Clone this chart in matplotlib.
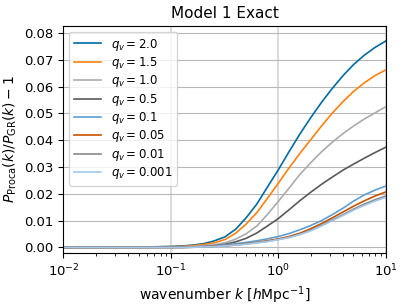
import numpy as np
import matplotlib
matplotlib.use("Agg")
import matplotlib.pyplot as plt

plt.style.use("tableau-colorblind10")

# wavenumber grid (h/Mpc)
k = [0.01, 0.03, 0.06, 0.1, 0.13, 0.16, 0.2, 0.25, 0.32, 0.4, 0.5, 0.63,
     0.79, 1.0, 1.26, 1.58, 2.0, 2.51, 3.16, 3.98, 5.01, 6.31, 7.94, 10.0]

qv_labels = ["2.0", "1.5", "1.0", "0.5", "0.1", "0.05", "0.01", "0.001"]

ratio_q2p0 = [0.0, 0.0001, 0.0002, 0.0004, 0.0006, 0.0009, 0.0014, 0.0024, 0.0040, 0.0068,
              0.0110, 0.0162, 0.0225, 0.0290, 0.0358, 0.0422, 0.0484, 0.0540, 0.0592,
              0.0640, 0.0682, 0.0717, 0.0746, 0.0770]
ratio_q1p5 = [0.0, 0.0001, 0.0001, 0.0003, 0.0004, 0.0007, 0.0011, 0.0017, 0.0030, 0.0053,
              0.0087, 0.0130, 0.0183, 0.0240, 0.0297, 0.0350, 0.0402, 0.0452, 0.0500,
              0.0543, 0.0582, 0.0614, 0.0641, 0.0662]
ratio_q1p0 = [0.0, 0.0, 0.0001, 0.0002, 0.0003, 0.0004, 0.0006, 0.0010, 0.0018, 0.0031,
              0.0051, 0.0080, 0.0123, 0.0172, 0.0222, 0.0272, 0.0316, 0.0356, 0.0392,
              0.0424, 0.0453, 0.0479, 0.0502, 0.0525]
ratio_q0p5 = [0.0, 0.0, 0.0, 0.0001, 0.0001, 0.0002, 0.0003, 0.0006, 0.0012, 0.0021,
              0.0034, 0.0054, 0.0080, 0.0108, 0.0141, 0.0174, 0.0206, 0.0235, 0.0262,
              0.0288, 0.0311, 0.0333, 0.0354, 0.0374]
ratio_q0p1 = [0.0, 0.0, 0.0, 0.0, 0.0001, 0.0002, 0.0003, 0.0006, 0.0010, 0.0014,
              0.0019, 0.0025, 0.0032, 0.0041, 0.0052, 0.0066, 0.0082, 0.0100, 0.0122,
              0.0146, 0.0173, 0.0196, 0.0214, 0.0229]
ratio_q0p05 = [0.0, 0.0, 0.0, 0.0, 0.0, 0.0001, 0.0002, 0.0004, 0.0007, 0.0010,
               0.0014, 0.0019, 0.0025, 0.0032, 0.0041, 0.0053, 0.0070, 0.0089, 0.0110,
               0.0132, 0.0154, 0.0174, 0.0192, 0.0207]
ratio_q0p01 = [0.0, 0.0, 0.0, 0.0, 0.0, 0.0001, 0.0002, 0.0004, 0.0006, 0.0009,
               0.0013, 0.0018, 0.0023, 0.0030, 0.0038, 0.0049, 0.0064, 0.0082, 0.0102,
               0.0122, 0.0143, 0.0162, 0.0178, 0.0192]
ratio_q0p001 = [0.0, 0.0, 0.0, 0.0, 0.0, 0.0001, 0.0002, 0.0003, 0.0006, 0.0009,
                0.0012, 0.0017, 0.0022, 0.0029, 0.0037, 0.0048, 0.0062, 0.0080, 0.0099,
                0.0119, 0.0139, 0.0157, 0.0173, 0.0187]

series = [ratio_q2p0, ratio_q1p5, ratio_q1p0, ratio_q0p5,
          ratio_q0p1, ratio_q0p05, ratio_q0p01, ratio_q0p001]

fig = plt.figure(figsize=(4.07, 3.05), dpi=100)
ax = fig.add_axes([0.156, 0.171, 0.792, 0.744])

for lab, vals in zip(qv_labels, series):
    ax.plot(k, vals, lw=1.2, label=r"$q_v = %s$" % lab)

ax.set_xscale("log")
ax.set_xlim(1e-2, 1e1)
ax.set_ylim(-0.002, 0.0826)
ax.set_yticks(np.arange(0, 0.081, 0.01))
ax.yaxis.grid(True, color="#b8b8b8", lw=0.8)
ax.xaxis.grid(True, color="#d4d4d4", lw=1.2)
ax.set_axisbelow(True)

ax.set_title("Model 1 Exact", fontsize=11)
ax.set_xlabel(r"wavenumber $k$ [$h$Mpc$^{-1}$]", fontsize=10)
ax.set_ylabel(r"$P_{\rm Proca}(k)/P_{\rm GR}(k)-1$", fontsize=10)
ax.tick_params(labelsize=9.5)
ax.legend(loc="upper left", fontsize=8.5, handlelength=2.3, labelspacing=0.2)

fig.savefig("out.png", dpi=100)
